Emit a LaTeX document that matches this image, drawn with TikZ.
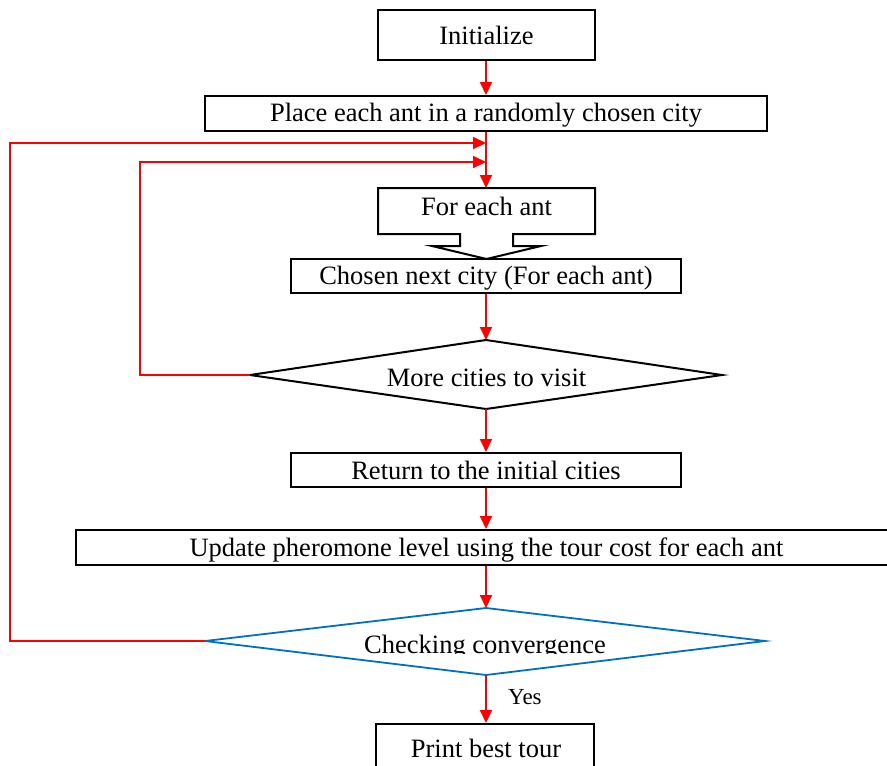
\documentclass[tikz,border=0pt]{standalone}
\usepackage{fontspec}
\setmainfont{Liberation Serif}
\usetikzlibrary{arrows.meta}
\definecolor{wordblue}{RGB}{0,112,192}
\tikzset{
  box/.style={draw=black, line width=2pt, rectangle, inner sep=0pt},
  lbl/.style={inner sep=0pt, anchor=base, font=\fontsize{26.5}{30}\selectfont},
  flow/.style={draw=red, line width=2pt, -{Triangle[length=13pt,width=12pt]}},
  outline/.style={draw=black, line width=2pt, line join=miter},
}
\begin{document}
\begin{tikzpicture}[x=1pt,y=-1pt]
\useasboundingbox (0,0) rectangle (887,766);
% boxes
\node[box, minimum width=217pt, minimum height=50pt] (init) at (486,35) {};
\node[lbl] (inittxt) at (486.5,44.3) {Initialize};
\node[box, minimum width=562pt, minimum height=35pt] (place) at (486,113.5) {};
\node[lbl] (placetxt) at (486,121.7) {Place each ant in a randomly chosen city};
% For each ant box with arrow notch
\draw[outline] (460,234) -- (378,234) -- (378,188) -- (595,188) -- (595,234) -- (513,234)
  -- (513,246) -- (541,246) -- (486.5,259) -- (432,246) -- (460,246) -- cycle;
\node[lbl] (feach) at (486.5,215) {For each ant};
\coordinate (ftop) at (486,188);
\node[box, minimum width=390pt, minimum height=34pt] (chosen) at (486,276) {};
\node[lbl] (chosentxt) at (486,284.3) {Chosen next city (For each ant)};
% diamond 1
\coordinate (mT) at (486,340);
\coordinate (mB) at (486,409);
\coordinate (mL) at (250,375);
\coordinate (mR) at (722,375);
\draw[outline] (mT) -- (mR) -- (mB) -- (mL) -- cycle;
\node[lbl] (more) at (486.5,386) {More cities to visit};
\node[box, minimum width=390pt, minimum height=34pt] (ret) at (486,470) {};
\node[lbl] (rettxt) at (486,479.5) {Return to the initial cities};
\node[box, minimum width=821pt, minimum height=35pt] (update) at (486,547.5) {};
\node[lbl] (updatetxt) at (486.5,556.5) {Update pheromone level using the tour cost for each ant};
% diamond 2
\coordinate (cT) at (486,608);
\coordinate (cB) at (486,675);
\coordinate (cL) at (205,641);
\coordinate (cR) at (765,641);
\draw[draw=wordblue, line width=1.8pt] (cT) -- (cR) -- (cB) -- (cL) -- cycle;
\begin{scope}
\clip (210,600) rectangle (760,653.5);
\node[lbl] (check) at (485,653) {Checking convergence};
\end{scope}
\node[box, minimum width=218pt, minimum height=50pt] (print) at (485,749) {};
\node[lbl] (printtxt) at (486,757.5) {Print best tour};
% junctions
\coordinate (j2) at (486,143);
\coordinate (j1) at (486,162);
% connectors
\draw[flow] (init.south) -- (place.north);
\draw[flow] (place.south) -- (ftop);
\draw[flow] (chosen.south) -- (mT);
\draw[flow] (mB) -- (ret.north);
\draw[flow] (ret.south) -- (update.north);
\draw[flow] (update.south) -- (cT);
\draw[flow] (cB) -- (cB |- print.north);
\node[inner sep=0pt, anchor=base west, font=\fontsize{23}{26}\selectfont] (yes) at (508,704.3) {Yes};
\draw[flow] (mL) -- ++(-110,0) |- (j1);
\draw[flow] (cL) -- ++(-195,0) |- (j2);
\end{tikzpicture}
\end{document}
